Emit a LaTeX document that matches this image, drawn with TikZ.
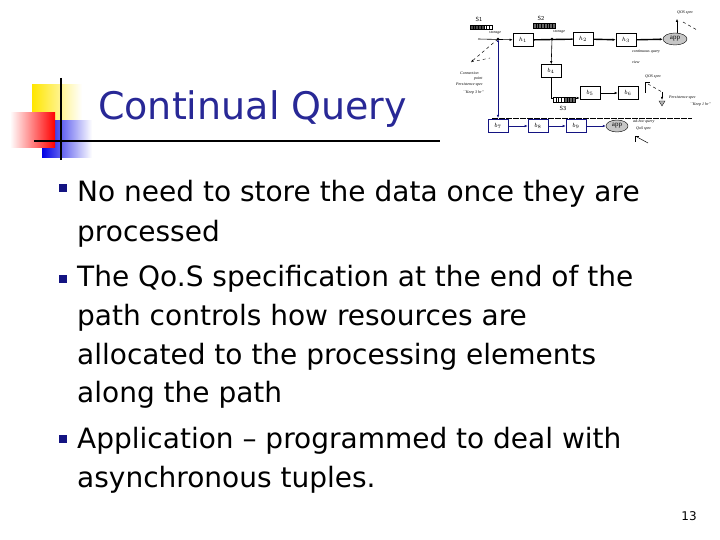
\documentclass[tikz,border=0pt]{standalone}
\usepackage{fontspec}
\setmainfont{DejaVu Sans}
\newfontfamily\serifit{Liberation Serif}
\usetikzlibrary{arrows.meta,shapes.geometric}
\definecolor{titleblue}{RGB}{40,40,150}
\definecolor{bulblue}{RGB}{20,20,130}
\begin{document}
\begin{tikzpicture}[x=1pt,y=-1pt,
  bul/.style={anchor=base west,inner sep=0,font=\fontsize{28}{28}\selectfont},
  pbox/.style={draw,line width=0.6pt,minimum width=20pt,minimum height=13pt,inner sep=0,font=\serifit\itshape\fontsize{6}{6}\selectfont},
  tiny/.style={inner sep=0,font=\serifit\itshape\fontsize{4}{4}\selectfont,anchor=west},
  lab/.style={inner sep=0,font=\sffamily\fontsize{6}{6}\selectfont},
  arr/.style={-{Latex[length=3pt,width=2.5pt]},line width=0.6pt},
  thick2/.style={line width=1.4pt},
  bar/.style={draw,line width=0.4pt}]
\useasboundingbox (0,0) rectangle (720,540);
% logo
\fill[left color=yellow!80!orange, right color=white] (32,85) rectangle (82,121);
\fill[left color=blue!90!black, right color=white] (42,121) rectangle (92,158);
\fill[left color=white, right color=red] (10,113) rectangle (55,148);
\draw[line width=1.6pt] (61,78) -- (61,160);
\draw[line width=1.2pt] (34,141) -- (440,141);
\node[anchor=base west,inner sep=0,text=titleblue,font=\fontsize{38}{38}\selectfont] (title) at (98,120) {Continual Query};
% bullets
\foreach \y in {188,279,439}
  \fill[bulblue] (59,\y-4) rectangle (67,\y+4);
\node[bul] (l1) at (77,202) {No need to store the data once they are};
\node[bul] (l2) at (77,241) {processed};
\node[bul] (l3) at (77,286) {The Qo.S specification at the end of the};
\node[bul] (l4) at (77,325) {path controls how resources are};
\node[bul] (l5) at (77,364) {allocated to the processing elements};
\node[bul] (l6) at (77,402) {along the path};
\node[bul] (l7) at (77,448) {Application -- programmed to deal with};
\node[bul] (l8) at (77,487) {asynchronous tuples.};
\node[inner sep=0,font=\fontsize{12}{12}\selectfont] (pg) at (689,516) {13};
% diagram
\node[pbox] (h1) at (523,40) {$h_1$};
\node[pbox] (h2) at (583,39) {$h_2$};
\node[pbox] (h3) at (626,40) {$h_3$};
\node[draw,ellipse,fill=gray!45,minimum width=24pt,minimum height=12pt,inner sep=0,font=\serifit\fontsize{7}{7}\selectfont] (app) at (675,39) {app};
\node[pbox] (b4) at (551,71) {$b_4$};
\node[pbox] (b5) at (590,93) {$b_5$};
\node[pbox] (b6) at (628,93) {$b_6$};
\node[pbox,draw=bulblue] (b7) at (498,126) {$b_7$};
\node[pbox,draw=bulblue] (b8) at (538,126) {$b_8$};
\node[pbox,draw=bulblue] (b9) at (576,126) {$b_9$};
\node[draw,ellipse,fill=gray!45,minimum width=22pt,minimum height=12pt,inner sep=0,font=\serifit\fontsize{7}{7}\selectfont] (app2) at (617,126) {app};
\coordinate (s) at (478,39);
\coordinate (j1) at (498,39);
\coordinate (j2) at (552,39);
\fill (j1) circle (1.3pt); \fill (j2) circle (1.3pt);
\draw[arr] (s) -- (h1);
\draw[thick2] (h1) -- (h2);
\draw[arr,thick2] (h2) -- (h3);
\draw[arr,thick2] (h3) -- (app);
\draw[arr] (j2) -- (b4);
\coordinate (k4) at (551,98);
\draw[arr] (b4) -- (k4) -- (b5.west|-k4);
\draw[arr] (b5) -- (b6);
\draw[bulblue,line width=0.6pt,{Latex[length=3pt,width=2.5pt]}-{Latex[length=3pt,width=2.5pt]}] (j1) -- (498,118);
\draw[bulblue,arr] (b7) -- (b8);
\draw[bulblue,arr] (b8) -- (b9);
\draw[bulblue,arr] (b9) -- (app2);
% storage bars
\foreach \x in {0,...,4} \draw[bar,fill=black!70] (470+\x*2.75,25) rectangle (472.75+\x*2.75,29);
\foreach \x in {5,...,7} \draw[bar,fill=white] (470+\x*2.75,25) rectangle (472.75+\x*2.75,29);
\foreach \x in {0,...,7} \draw[bar,fill=black!60] (533+\x*2.75,23) rectangle (535.75+\x*2.75,28);
\foreach \x in {0,...,3} \draw[bar,fill=white] (553+\x*2.75,97) rectangle (555.75+\x*2.75,102);
\foreach \x in {4,...,7} \draw[bar,fill=black!60] (553+\x*2.75,97) rectangle (555.75+\x*2.75,102);
\node[lab] (S1) at (479,19) {S1};
\node[lab] (S2) at (541,18) {S2};
\node[lab] (S3) at (563,108) {S3};
\node[tiny] (st1) at (489,33) {storage};
\node[tiny] (st2) at (553,32) {storage};
\draw[dashed,line width=0.5pt] (683,22) -- (697,30);
\draw[arr] (app.north) ++(2,0) -- ++(0,-14) coordinate (q1);
\node[tiny] (qos1) at (677,13) {QOS spec};
\node[tiny] (cq) at (632,52) {continuous query};
\node[tiny] (view) at (632,62) {view};
\coordinate (cp) at (471,62);
\draw[dashed,line width=0.5pt,-{Latex[length=2.5pt]}] (j1) -- (cp);
\draw[dashed,line width=0.4pt] (cp) -- (490,58);
\node[tiny] (cpt) at (460,73) {Connection};
\node[tiny] (cpt2) at (474,79) {point};
\node[tiny] (ps1) at (456,85) {Persistence spec};
\node[tiny] (ps1b) at (463,93) {``Keep 3 hr''};
\node[tiny] (qos2) at (645,77) {QOS spec};
\draw[line width=0.5pt] (645,93) -- (645,82) -- (650,82);
\draw[dashed,line width=0.5pt] (648,84) -- (662,92);
\draw[line width=0.5pt,-{Latex[length=3pt]}] (662,92) -- (662,100);
\fill[gray!60,draw=black,line width=0.3pt] (659,101) -- (665,101) -- (662,106) -- cycle;
\node[tiny] (ps2) at (669,98) {Persistence spec};
\node[tiny] (ps2b) at (690,105) {``Keep 1 hr''};
\draw[line width=0.8pt,dash pattern=on 6pt off 1pt] (492,118) -- (692,118);
\node[tiny] (ah) at (633,122) {ad-hoc query};
\node[tiny] (qos3) at (636,129) {QoS spec};
\draw[line width=0.5pt] (635,142) -- (635,136) -- (639,136);
\draw[line width=0.5pt] (637,137) -- (648,143);
\end{tikzpicture}
\end{document}
